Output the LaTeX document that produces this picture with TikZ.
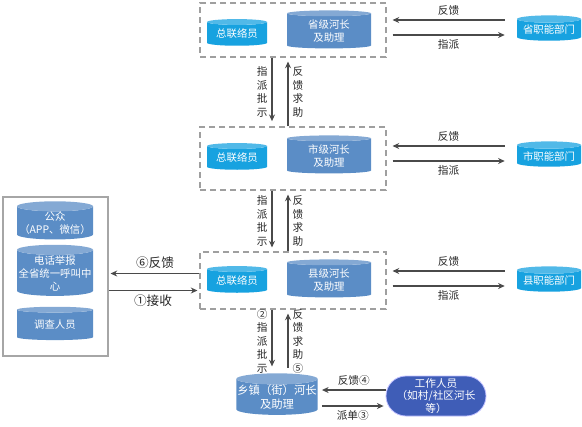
\documentclass[tikz,border=0pt]{standalone}
\usepackage{fontspec}
\setmainfont{Noto Sans CJK SC}
\usepackage{tikz}
\usetikzlibrary{arrows.meta,positioning,calc,shapes.geometric,shapes.misc}
\definecolor{cyanb}{HTML}{17A2E0}
\definecolor{steelb}{HTML}{5B8DC6}
\definecolor{navyb}{HTML}{3F5DB7}
\definecolor{lnk}{HTML}{4A4A4A}

\begin{document}
\begin{tikzpicture}[x=0.75pt,y=-0.75pt,>={Stealth[length=5pt,width=4.5pt]},
  cy/.style={cylinder,shape border rotate=90,aspect=0.14,cylinder uses custom fill,cylinder body fill=#1,cylinder end fill=#1!75!white,text=white,font=\fontsize{7.8}{9.8}\selectfont,align=center,inner sep=0pt},
  lo/.style={cy=cyanb,minimum width=45pt,minimum height=20pt},
  hz/.style={cy=steelb,minimum width=63pt,minimum height=28.5pt},
  zn/.style={cy=cyanb,minimum width=48pt,minimum height=19pt},
  pb/.style={cy=steelb,minimum width=57pt,minimum height=25pt},
  fr/.style={draw=gray!75,dash pattern=on 4.5pt off 3pt,line width=0.8pt,inner sep=0pt},
  ar/.style={->,lnk,line width=0.8pt},
  lb/.style={font=\fontsize{8}{10.2}\selectfont,text=black!85,inner sep=3pt,align=center}]
\useasboundingbox (0,0) rectangle (582,426);
% dashed frames
\node[fr,minimum width=139.5pt,minimum height=40.5pt] (P) at (293,30) {};
\node[fr,minimum width=139.5pt,minimum height=47.25pt] (C) at (293,158.5) {};
\node[fr,minimum width=139.5pt,minimum height=42.75pt] (K) at (293,280.5) {};
% province
\node[lo] (p1) at (237,34) {总联络员};
\node[hz] (p2) at (329,31) {省级河长\\及助理};
\node[zn] (pf) at (549,30) {省职能部门};
% city
\node[lo] (c1) at (237,158) {总联络员};
\node[hz] (c2) at (329,156) {市级河长\\及助理};
\node[zn] (cf) at (549,156) {市职能部门};
% county
\node[lo] (k1) at (237,281) {总联络员};
\node[hz] (k2) at (329,280) {县级河长\\及助理};
\node[zn] (kf) at (549,281) {县职能部门};
% left box
\node[draw=gray!70,line width=0.8pt,minimum width=78.75pt,minimum height=119.25pt] (L) at (55.5,276.5) {};
\node[pb] (g1) at (55,223) {公众\\（APP、微信）};
\node[pb] (g2) at (55,273) {电话举报\\全省统一呼叫中\\心};
\node[pb] (g3) at (55,325) {调查人员};
% town and workers
\node[hz,minimum width=61pt,font=\fontsize{8.5}{10.5}\selectfont] (t) at (277,397) {乡镇（街）河长\\及助理};
\node[rounded rectangle,fill=navyb,draw=blue!25,line width=0.6pt,text=white,minimum width=69pt,minimum height=30pt,inner sep=0pt,align=center,font=\fontsize{8}{9.5}\selectfont] (w) at (436,396) {工作人员\\（如村/社区河长\\等）};
% side arrows
\foreach \a/\b in {P/pf,C/cf,K/kf}{
  \draw[ar] ($(\b.west)+(-12,-10)$) -- ($(\a.east |- \b.west)+(6,-10)$) node[midway,above,lb]{反馈};
  \draw[ar] ($(\a.east |- \b.west)+(6,5)$) -- ($(\b.west)+(-12,5)$) node[midway,below,lb]{指派};
}
\draw[ar] ($(K.west)+(0,-7)$) -- ($(L.east |- K.west)+(2,-7)$) node[midway,above,lb,font=\fontsize{9.5}{11}\selectfont]{⑥反馈};
\draw[ar] ($(L.east |- K.west)+(0,10)$) -- ($(K.west)+(-2,10)$) node[midway,below,lb,font=\fontsize{9.5}{11}\selectfont]{①接收};
% vertical arrows
\coordinate (dn) at (272,0);
\coordinate (up) at (288,0);
\draw[ar,shorten >=4pt] (P.south -| dn) -- (C.north -| dn) node[midway,left,lb]{指\\派\\批\\示};
\draw[ar,shorten >=3pt] (C.north -| up) -- (P.south -| up) node[midway,right,lb]{反\\馈\\求\\助};
\draw[ar,shorten >=3pt] (C.south -| dn) -- (K.north -| dn) node[midway,left,lb]{指\\派\\批\\示};
\draw[ar,shorten >=3pt] (K.north -| up) -- (C.south -| up) node[midway,right,lb]{反\\馈\\求\\助};
\draw[ar,shorten >=5pt] (K.south -| dn) -- (t.north -| dn) node[midway,left,lb]{②\\指\\派\\批\\示};
\draw[ar,shorten >=3pt,shorten <=4pt] (t.north -| up) -- (K.south -| up) node[midway,right,lb]{反\\馈\\求\\助\\⑤};
% town arrows
\draw[ar] ($(w.west)+(0,-6)$) -- ($(t.east |- w.west)+(4,-6)$) node[midway,above,lb]{反馈④};
\draw[ar] ($(t.east |- w.west)+(4,10)$) -- ($(w.west)+(-2,10)$) node[midway,below,lb]{派单③};
\end{tikzpicture}
\end{document}
